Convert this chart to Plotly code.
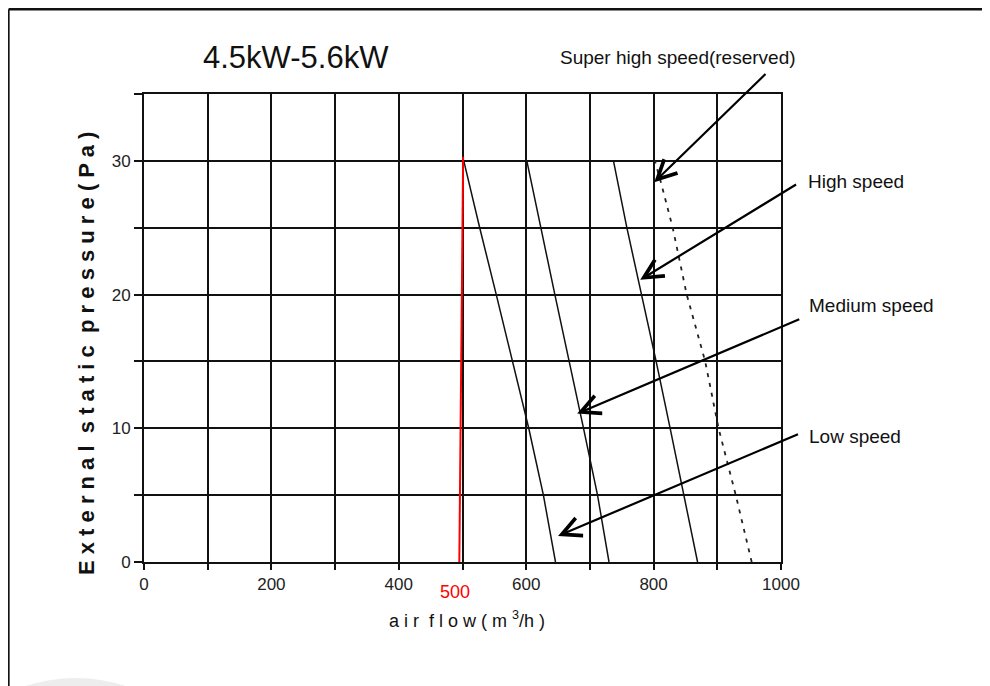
import plotly.graph_objects as go

# ---- data ----
pressure = [0, 5, 10, 15, 20, 25, 30]
low_flow = [646, 627, 604, 579, 553, 527, 502]
medium_flow = [730, 712, 690, 667, 645, 623, 601]
high_flow = [869, 848, 826, 804, 781, 758, 737]
super_pressure = [0, 5, 10, 15, 20, 25, 28.3, 30]
super_flow = [954, 929, 902, 881, 852, 830, 812, 802]
red_flow = [495, 501]
red_pressure = [0, 30.3]

x_tickvals = [0, 100, 200, 300, 400, 500, 600, 700, 800, 900, 1000]
x_ticktext = ["0", "", "200", "", "400", "", "600", "", "800", "", "1000"]
y_tickvals = [0, 5, 10, 15, 20, 25, 30, 35]
y_ticktext = ["0", "", "10", "", "20", "", "30", ""]

title_text = "4.5kW-5.6kW"
labels = ["Super high speed(reserved)", "High speed", "Medium speed", "Low speed"]
# arrow head (data) and tail (data) for each label
arrow_heads = [(801, 28.4), (779, 21.1), (680, 11.1), (650, 1.95)]
arrow_tails = [(978, 36.6), (1026, 28.3), (1031, 18.2), (1029, 9.6)]

FONT = "Liberation Sans, Arial, sans-serif"

# page pixel -> paper coordinates (plot area spans 143.3..780 x, 93.3..561 y on the page)
def px2paper_x(px):
    return (px - 143.3) / 636.7

def px2paper_y(py):
    return (561 - py) / 467.7

fig = go.Figure()
line_style = dict(color="#111111", width=1.5)
fig.add_trace(go.Scatter(x=low_flow, y=pressure, mode="lines", line=line_style,
                         hoverinfo="skip", showlegend=False))
fig.add_trace(go.Scatter(x=medium_flow, y=pressure, mode="lines", line=line_style,
                         hoverinfo="skip", showlegend=False))
fig.add_trace(go.Scatter(x=high_flow, y=pressure, mode="lines", line=line_style,
                         hoverinfo="skip", showlegend=False))
fig.add_trace(go.Scatter(x=super_flow, y=super_pressure, mode="lines",
                         line=dict(color="#222222", width=1.8, dash="4px,6px"),
                         hoverinfo="skip", showlegend=False))
fig.add_trace(go.Scatter(x=red_flow, y=red_pressure, mode="lines",
                         line=dict(color="#ff0000", width=2),
                         hoverinfo="skip", showlegend=False))

label_pos = [(677, 57, "center"), (805, 181, "left"), (806, 305, "left"), (806, 436, "left")]

annotations = [dict(text=title_text, x=px2paper_x(200), xref="paper", xanchor="left",
                    y=px2paper_y(57), yref="paper", yanchor="middle", showarrow=False,
                    font=dict(family=FONT, size=31, color="#111111"))]
for (lx, ly, anc), t in zip(label_pos, labels):
    annotations.append(dict(text=t, x=px2paper_x(lx), xref="paper", xanchor=anc,
                            y=px2paper_y(ly), yref="paper", yanchor="middle",
                            showarrow=False,
                            font=dict(family=FONT, size=19, color="#111111")))
for (hx, hy), (tx, ty) in zip(arrow_heads, arrow_tails):
    annotations.append(dict(text="", x=hx, y=hy, xref="x", yref="y",
                            ax=tx, ay=ty, axref="x", ayref="y",
                            showarrow=True, arrowhead=5, arrowsize=1.7,
                            arrowwidth=2.2, arrowcolor="#000000", standoff=0))
# red 500 label
annotations.append(dict(text="500", x=488, xref="x", y=px2paper_y(591), yref="paper",
                        yanchor="middle", showarrow=False,
                        font=dict(family=FONT, size=18, color="#ff0000")))
# x-axis title
annotations.append(dict(text="a i r  f l o w ( m <sup>3</sup>/h )", x=px2paper_x(466), xref="paper",
                        y=px2paper_y(618), yref="paper", yanchor="middle", showarrow=False,
                        font=dict(family=FONT, size=18, color="#111111")))
# y-axis title
annotations.append(dict(text="<b>E x t e r n a l  s t a t i c  p r e s s u r e ( P a )</b>",
                        x=px2paper_x(72), xref="paper", y=px2paper_y(353), yref="paper",
                        textangle=-90, showarrow=False,
                        font=dict(family=FONT, size=22, color="#111111")))

shapes = [
    # image frame
    dict(type="line", xref="paper", yref="paper", x0=px2paper_x(8), x1=px2paper_x(995),
         y0=px2paper_y(8.5), y1=px2paper_y(8.5), line=dict(color="#111111", width=2.5)),
    dict(type="line", xref="paper", yref="paper", x0=px2paper_x(8), x1=px2paper_x(8),
         y0=px2paper_y(8.5), y1=px2paper_y(690), line=dict(color="#111111", width=2)),
    # faint gray blob bottom-left
    dict(type="circle", xref="paper", yref="paper", x0=px2paper_x(-60), x1=px2paper_x(210),
         y0=px2paper_y(900), y1=px2paper_y(677), fillcolor="#ededed",
         line=dict(width=0), layer="below"),
    # red tick at 500
    dict(type="line", xref="x", yref="y", x0=500, x1=500, y0=0, y1=-0.45,
         line=dict(color="#ff0000", width=2)),
]

fig.update_layout(
    width=990, height=686,
    margin=dict(l=136, r=217, t=86, b=132),
    paper_bgcolor="white", plot_bgcolor="white",
    font=dict(family=FONT, size=14, color="#222222"),
    annotations=annotations, shapes=shapes,
    showlegend=False,
)
fig.update_xaxes(range=[0, 1000], tickvals=x_tickvals, ticktext=x_ticktext,
                 showgrid=True, gridcolor="#111111", gridwidth=2,
                 showline=True, linecolor="#111111", linewidth=2, mirror=True,
                 ticks="outside", ticklen=6, tickwidth=2, tickcolor="#111111",
                 tickfont=dict(family=FONT, size=17, color="#222222"),
                 zeroline=False)
fig.update_yaxes(range=[0, 35], tickvals=y_tickvals, ticktext=y_ticktext,
                 showgrid=True, gridcolor="#111111", gridwidth=2,
                 showline=True, linecolor="#111111", linewidth=2, mirror=True,
                 ticks="outside", ticklen=8, tickwidth=2, tickcolor="#111111",
                 tickfont=dict(family=FONT, size=17, color="#222222"),
                 zeroline=False)

fig.write_html("out.html")
